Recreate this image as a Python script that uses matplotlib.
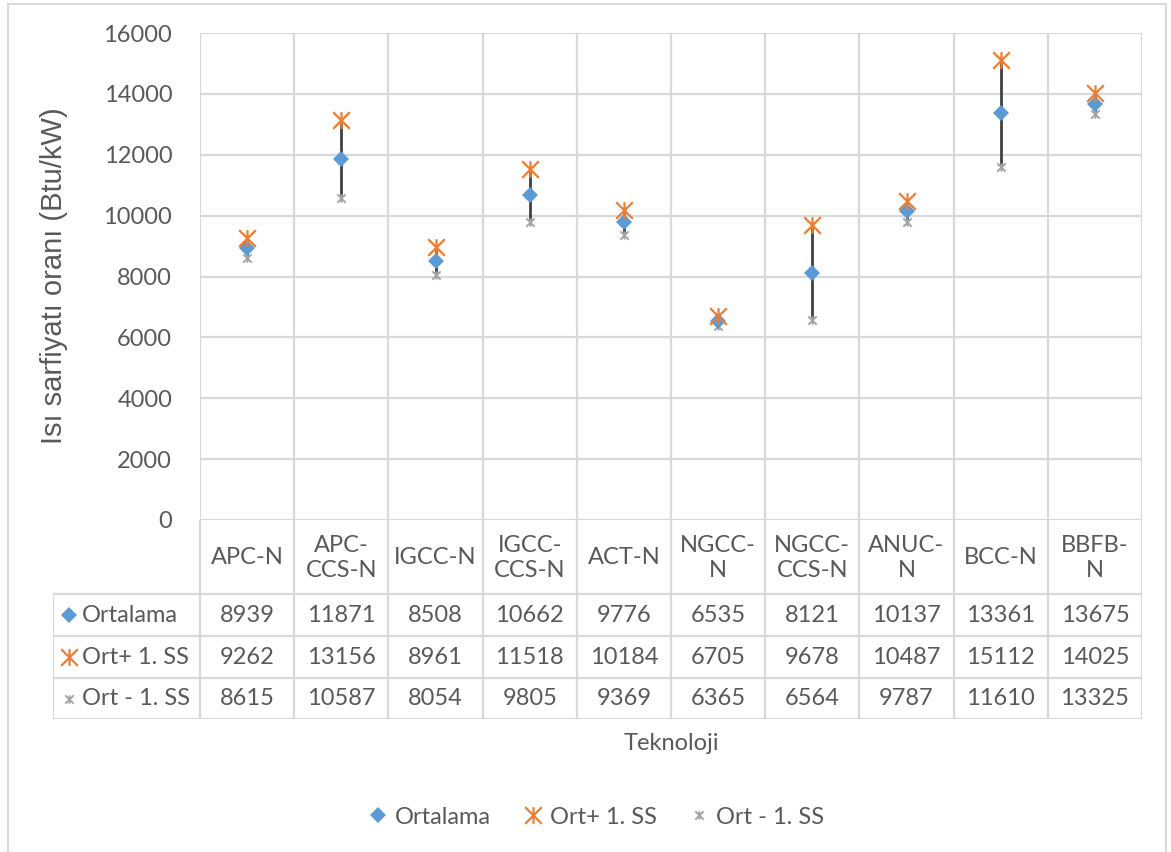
import numpy as np
import matplotlib
matplotlib.use("Agg")
import matplotlib.pyplot as plt
from matplotlib.path import Path
from matplotlib.lines import Line2D
from matplotlib.patches import Rectangle

# data
categories = ["APC-N", "APC-\nCCS-N", "IGCC-N", "IGCC-\nCCS-N", "ACT-N",
              "NGCC-\nN", "NGCC-\nCCS-N", "ANUC-\nN", "BCC-N", "BBFB-\nN"]
ortalama = [8939, 11871, 8508, 10662, 9776, 6535, 8121, 10137, 13361, 13675]
ort_plus = [9262, 13156, 8961, 11518, 10184, 6705, 9678, 10487, 15112, 14025]
ort_minus = [8615, 10587, 8054, 9805, 9369, 6365, 6564, 9787, 11610, 13325]
series_names = ["Ortalama", "Ort+ 1. SS", "Ort - 1. SS"]
yticks = list(range(0, 16001, 2000))

W, H = 1171, 852
TEXT = "#595959"
GRID = "#d9d9d9"
BLUE = "#5b9bd5"
ORANGE = "#ed7d31"
GRAY = "#a5a5a5"
FONT = "Lato"
FS = 17

star = Path([(-1, -1), (1, 1), (-1, 1), (1, -1), (0, -1), (0, 1)],
            [Path.MOVETO, Path.LINETO, Path.MOVETO, Path.LINETO, Path.MOVETO, Path.LINETO])
styles = [
    dict(marker="D", color=BLUE, ms=8, mew=0),
    dict(marker=star, color=ORANGE, ms=12, mew=1.6),
    dict(marker=star, color=GRAY, ms=6, mew=1.4),
]


def fx(px):
    return px / W


def fy(py):
    return 1 - py / H


fig = plt.figure(figsize=(W / 100, H / 100), dpi=100)
fig.patches.append(Rectangle((fx(8), -0.01), fx(1166 - 8), fy(4) + 0.01,
                             transform=fig.transFigure, fill=False,
                             edgecolor=GRID, lw=1.5))

# plot area
ax = fig.add_axes([fx(200), fy(520), fx(1142 - 200), (520 - 33) / H])
x = np.arange(len(categories))
ax.set_xlim(-0.5, len(categories) - 0.5)
ax.set_ylim(0, 16000)
ax.set_yticks(yticks)
ax.set_xticks(np.arange(-0.5, len(categories), 1))
ax.set_xticklabels([])
ax.grid(True, color=GRID, lw=1.6)
ax.set_axisbelow(True)
for s in ax.spines.values():
    s.set_visible(False)
ax.tick_params(length=0, labelsize=FS, labelcolor=TEXT, pad=20)
for lab in ax.get_yticklabels():
    lab.set_fontfamily(FONT)

ax.vlines(x, ort_minus, ort_plus, color="#404040", lw=2, zorder=2)
for vals, st in zip([ort_minus, ortalama, ort_plus], [styles[2], styles[0], styles[1]]):
    ax.plot(x, vals, ls="none", zorder=3, **st)

fig.text(fx(54), fy(276), "Isı sarfiyatı oranı (Btu/kW)", rotation=90,
         ha="center", va="center", fontsize=21, color=TEXT,
         family="Liberation Sans")

# data table below the plot
unit = (1142 - 200) / len(categories)
tax = fig.add_axes([fx(53), fy(719), fx(1142 - 53), (719 - 520) / H])
left = -0.5 - (200 - 53) / unit
tax.set_xlim(left, len(categories) - 0.5)
tax.set_ylim(199, 0)
tax.axis("off")
rows = [0, 74, 116, 158, 199]
tax.vlines(np.arange(-0.5, len(categories), 1), 0, 199, color=GRID, lw=1.6)
tax.vlines(left, rows[1], 199, color=GRID, lw=1.6)
tax.hlines(rows[1:], left, len(categories) - 0.5, color=GRID, lw=1.6)

for i, c in enumerate(categories):
    tax.text(i, (rows[0] + rows[1]) / 2 + 1, c, ha="center", va="center",
             fontsize=FS, color=TEXT, family=FONT, linespacing=1.2)

for r, (name, vals, st) in enumerate(zip(series_names, [ortalama, ort_plus, ort_minus], styles)):
    yc = (rows[r + 1] + rows[r + 2]) / 2
    tax.plot(left + 16 / unit, yc, ls="none", clip_on=False, **st)
    tax.text(left + 29 / unit, yc, name, ha="left", va="center",
             fontsize=FS, color=TEXT, family=FONT)
    for i, v in enumerate(vals):
        tax.text(i, yc, str(v), ha="center", va="center",
                 fontsize=FS, color=TEXT, family=FONT)

fig.text(fx(671), fy(743), "Teknoloji", ha="center", va="center",
         fontsize=FS, color=TEXT, family=FONT)

handles = [Line2D([], [], ls="none", **st) for st in styles]
fig.legend(handles, series_names, loc="center", bbox_to_anchor=(fx(594), fy(817)),
           ncol=3, frameon=False, handletextpad=0.1, columnspacing=1.2,
           handlelength=1.2, prop={"family": FONT, "size": FS}, labelcolor=TEXT)

fig.savefig("out.png", dpi=100)
